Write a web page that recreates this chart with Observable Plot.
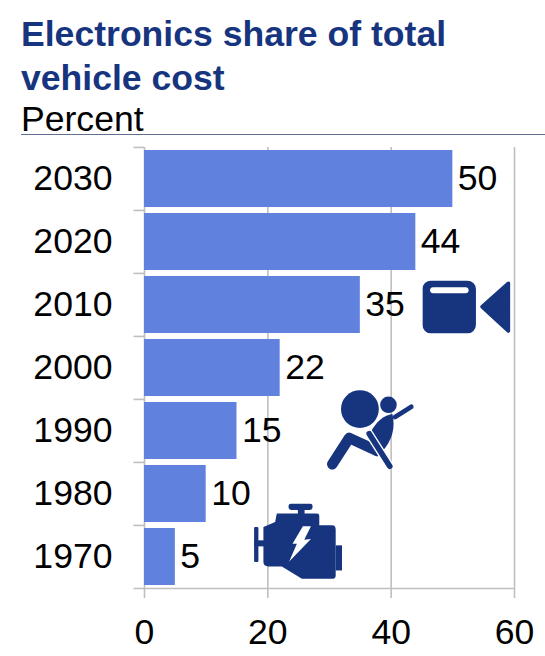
<!DOCTYPE html>
<html><head><meta charset="utf-8">
<script src="https://cdn.jsdelivr.net/npm/d3@7"></script>
<script src="https://cdn.jsdelivr.net/npm/@observablehq/plot@0.6"></script>
<style>
html,body{margin:0;padding:0;background:#fff;width:545px;height:656px;overflow:hidden;font-family:"Liberation Sans",Arial,sans-serif}
#title{position:absolute;left:21px;top:12px;font-size:35.6px;font-weight:bold;line-height:44px;color:#17357f;white-space:nowrap}
#sub{position:absolute;left:21px;top:98px;font-size:35.6px;line-height:42px;color:#000}
#rule{position:absolute;left:21px;top:134px;width:524px;height:1px;background:#5f6f8f}
#chart{position:absolute;left:0;top:136px}
</style></head><body>
<div id="title">Electronics share of total<br>vehicle cost</div>
<div id="sub">Percent</div>
<div id="rule"></div>
<div id="chart"></div>
<script>
const years = ["2030","2020","2010","2000","1990","1980","1970"];
const shares = [50,44,35,22,15,10,5];
const xTicks = [0,20,40,60];
const navy = "#17357f", barColor = "#6082de", gridColor = "#bfbfbf";
const rows = years.map((year,i)=>({year,share:shares[i]}));
const uri = (vb,body)=>"data:image/svg+xml;utf8,"+encodeURIComponent(`<svg xmlns="http://www.w3.org/2000/svg" viewBox="${vb}" fill="${navy}" stroke="none">${body}</svg>`);
const cameraIcon = uri("367 62 263 158",`<rect x="367" y="62" width="160" height="158" rx="26"/><rect x="390" y="82" width="115" height="18" rx="9" fill="#fff"/><path d="M624 71 L546 140 L624 212 Z" stroke="${navy}" stroke-width="12" stroke-linejoin="round"/>`);
const airbagIcon = uri("80 390 262 242",`<path d="M278 463 Q240 468 214 515 L248 575 Q292 525 278 463Z"/><circle cx="180" cy="448" r="57"/><circle cx="266" cy="435" r="25"/><path d="M286 472 L335 441" stroke="${navy}" stroke-width="14" stroke-linecap="round"/><path d="M97 614 L148 535 L232 574" fill="none" stroke="${navy}" stroke-width="32" stroke-linecap="round" stroke-linejoin="round"/><path d="M204 516 L270 620" stroke="#fff" stroke-width="25"/><path d="M208 522 L270 620" stroke="${navy}" stroke-width="17" stroke-linecap="round"/>`);
const engineIcon = uri("402 40 263 230",`<rect x="505" y="40" width="72" height="19" rx="9"/><rect x="533" y="55" width="20" height="20"/><path d="M430 110 L465 95 L470 70 L590 70 Q597 70 597 77 L597 105 L635 105 Q646 105 646 118 L646 255 Q646 265 635 265 L545 265 L485 228 L445 228 Q430 228 430 215Z"/><rect x="646" y="165" width="19" height="75"/><rect x="402" y="110" width="13" height="105" rx="3"/><rect x="402" y="150" width="30" height="18"/><path d="M548 108 L572 108 L552 148 L572 146 L507 213 L530 160 L517 160Z" fill="#fff"/>`);
const bandStep = 442/7;
const iconMark = (src,x,year,width,height,dy)=>Plot.image([{src,x,year}],{src:"src",x:"x",y:"year",width,height,dy});
const chart = Plot.plot({
  width:545,height:520,marginLeft:144,marginRight:31,marginTop:11,marginBottom:67,
  style:{fontFamily:'"Liberation Sans",Arial,sans-serif',background:"#fff",color:"#000",overflow:"visible"},
  x:{domain:[0,60],label:null},
  y:{domain:years,label:null,paddingInner:0.09,paddingOuter:0.045},
  marks:[
    Plot.ruleX(xTicks,{x:d=>d,stroke:gridColor,strokeWidth:1.6,insetBottom:-9}),
    Plot.ruleY(years,{y:d=>d,dy:-bandStep/2,x1:-1.7,x2:0,stroke:gridColor,strokeWidth:1.6}),
    Plot.barX(rows,{x:"share",y:"year",fill:barColor}),
    Plot.ruleY(["1970"],{y:d=>d,dy:bandStep/2,x1:-1.7,x2:60,stroke:gridColor,strokeWidth:1.6}),
    Plot.text(rows,{x:"share",y:"year",text:d=>String(d.share),textAnchor:"start",dx:5,fontSize:35.6,fill:"#000"}),
    iconMark(cameraIcon,52.2,"2010",88,53,2),
    iconMark(airbagIcon,36.6,"1990",87,81,-1),
    iconMark(engineIcon,24.9,"1970",88,77,-15),
    Plot.axisY({tickSize:0,tickPadding:32,fontSize:35.6,fill:"#000"}),
    Plot.axisX(xTicks,{tickSize:0,tickPadding:29,fontSize:35.6,fill:"#000"})
  ]
});
document.getElementById("chart").appendChild(chart);
</script></body></html>
